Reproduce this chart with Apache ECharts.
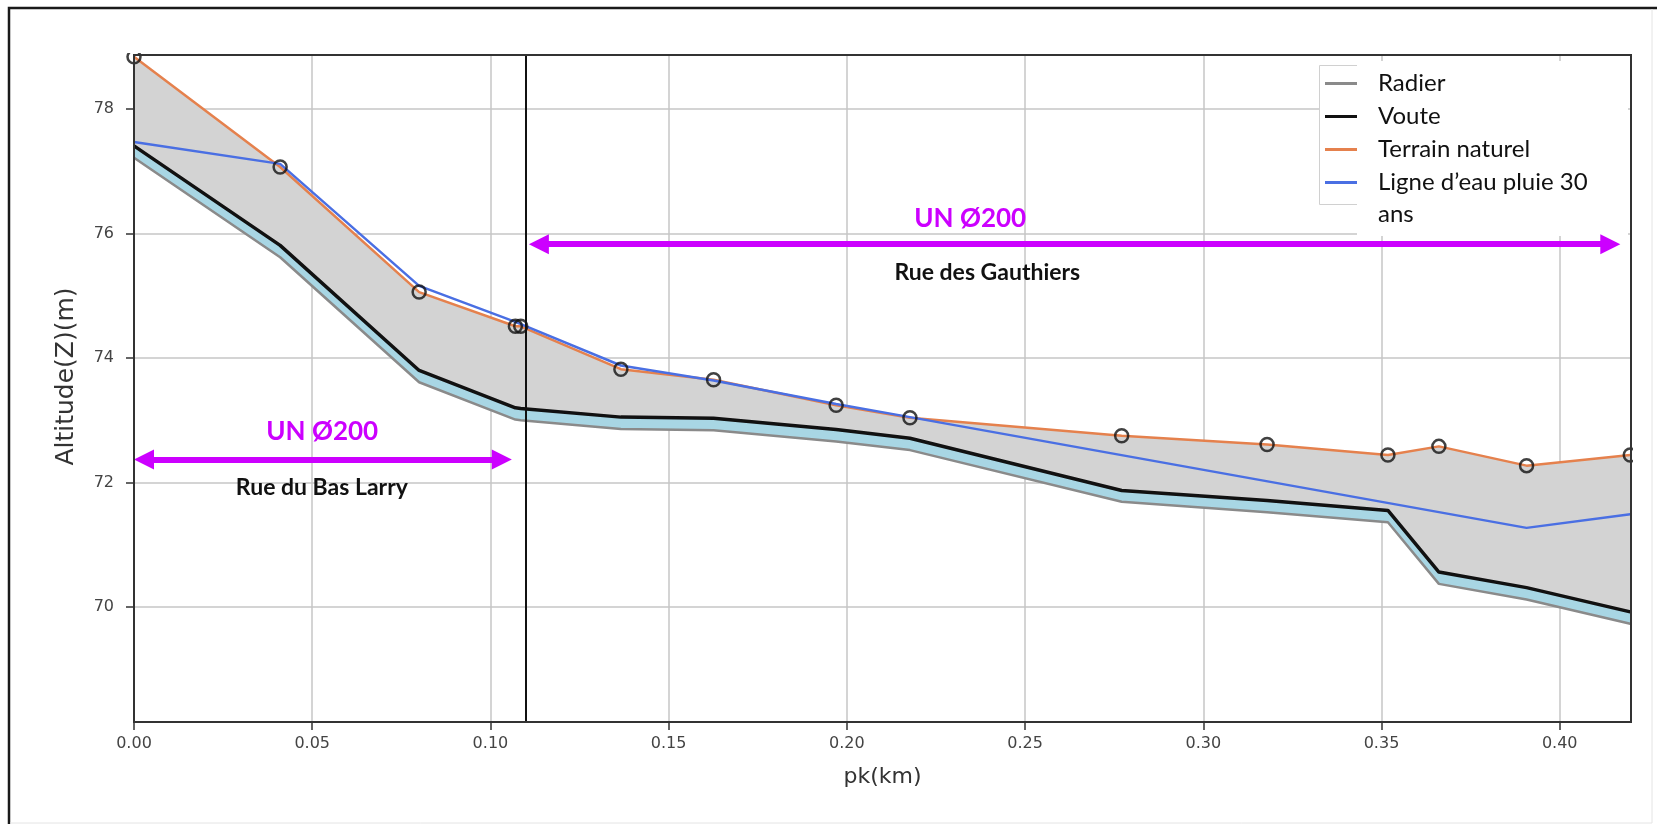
<!DOCTYPE html>
<html>
<head>
<meta charset="utf-8">
<script src="https://cdn.jsdelivr.net/npm/echarts@6/dist/echarts.min.js"></script>
<style>
  html, body { margin: 0; padding: 0; background: #fff; }
  #chart { width: 1657px; height: 825px; }
</style>
</head>
<body>
<div id="chart"></div>
<script>
// Profil en long : stations (pk en km) et altitudes (m)
const pk             = [0.000, 0.041, 0.080, 0.107, 0.1085, 0.1366, 0.1626, 0.197, 0.2177, 0.2771, 0.3179, 0.3518, 0.3661, 0.3907, 0.4198];
const terrainNaturel = [78.84, 77.07, 75.06, 74.51, 74.51, 73.82, 73.65, 73.24, 73.04, 72.75, 72.61, 72.44, 72.58, 72.27, 72.44];
const voute          = [77.41, 75.81, 73.80, 73.20, 73.19, 73.05, 73.03, 72.85, 72.71, 71.87, 71.71, 71.55, 70.56, 70.31, 69.92];
const radier         = [77.22, 75.62, 73.61, 73.01, 73.00, 72.86, 72.84, 72.66, 72.52, 71.69, 71.52, 71.36, 70.37, 70.12, 69.73];

// Ligne d'eau pour la pluie de retour 30 ans
const pkLigneEau = [0.000, 0.041, 0.080, 0.107, 0.1366, 0.1626, 0.197, 0.2177, 0.3907, 0.4198];
const ligneEau   = [77.47, 77.12, 75.16, 74.58, 73.88, 73.64, 73.26, 73.05, 71.27, 71.49];

// Graduations
const xTicks = [0, 0.05, 0.10, 0.15, 0.20, 0.25, 0.30, 0.35, 0.40];
const yTicks = [70, 72, 74, 76, 78];

// Tronçons de réseau (étendue en pk, altitude de la flèche)
const pkSeparation = 0.108;
const tronconDebut = [0.0028, 0.1136];
const tronconFin   = [0.1032, 0.4142];
const tronconZ     = [72.37, 75.83];
const tronconDiam  = ['UN Ø200', 'UN Ø200'];
const tronconRue   = ['Rue du Bas Larry', 'Rue des Gauthiers'];

const NOM_RADIER = 'Radier';
const NOM_VOUTE = 'Voute';
const NOM_TN = 'Terrain naturel';
const NOM_EAU = 'Ligne d’eau pluie 30 ans';

const zip = (xs, ys) => xs.map((x, i) => [x, ys[i]]);

// Remplissage entre deux profils définis sur les mêmes stations
function bande(name, haut, bas, fill) {
  return {
    type: 'custom', name, silent: true, z: 1,
    data: [[pk[0], haut[0]]],
    renderItem: (params, api) => {
      const sup = pk.map((x, i) => api.coord([x, haut[i]]));
      const inf = pk.map((x, i) => api.coord([x, bas[i]])).reverse();
      return { type: 'polygon', shape: { points: sup.concat(inf) }, style: { fill } };
    }
  };
}

function ligne(name, xs, ys, color, width, z) {
  return {
    type: 'line', name, color, z,
    data: zip(xs, ys),
    symbol: 'none', showSymbol: false,
    lineStyle: { color, width },
    emphasis: { disabled: true }
  };
}

// Positions des étiquettes des tronçons (pk, altitude)
const etiqDiam = [[0.0528, 72.81], [0.2346, 76.24]];
const etiqRue  = [[0.0527, 71.92], [0.2394, 75.38]];

const fleches = tronconDebut.map((d, i) => [
  { coord: [d, tronconZ[i]] },
  { coord: [tronconFin[i], tronconZ[i]] }
]);

const etiquettes = [];
tronconDiam.forEach((t, i) => etiquettes.push({
  coord: etiqDiam[i], value: t,
  label: { formatter: t, fontFamily: 'Lato', fontWeight: 'bold', fontSize: 26, color: '#cc00ff' }
}));
tronconRue.forEach((t, i) => etiquettes.push({
  coord: etiqRue[i], value: t,
  label: { formatter: t, fontFamily: 'Lato', fontWeight: 'bold', fontSize: 23, color: '#111' }
}));

const chart = echarts.init(document.getElementById('chart'), null, { renderer: 'canvas' });

chart.setOption({
  animation: false,
  backgroundColor: '#fff',
  grid: {
    left: 134, top: 55, width: 1497, height: 667,
    show: true, borderColor: '#333', borderWidth: 2,
    backgroundColor: 'transparent', z: 10
  },
  xAxis: {
    type: 'value', min: 0, max: 0.42, interval: 0.05,
    name: 'pk(km)', nameLocation: 'middle', nameGap: 44,
    nameTextStyle: { fontFamily: 'DejaVu Sans', fontSize: 22, color: '#333' },
    axisLine: { show: true, lineStyle: { color: '#333', width: 2 } },
    axisTick: { show: true, inside: false, length: 8, customValues: xTicks, lineStyle: { color: '#333', width: 1.5 } },
    axisLabel: {
      customValues: xTicks, margin: 14,
      formatter: v => v.toFixed(2),
      fontFamily: 'DejaVu Sans', fontSize: 16, color: '#444'
    },
    splitLine: { show: true, lineStyle: { color: '#c6c6c6', width: 1.5 } }
  },
  yAxis: {
    type: 'value', min: 68.15, max: 78.87, splitNumber: 5,
    name: 'Altitude(Z)(m)', nameLocation: 'middle', nameGap: 55, nameRotate: 90,
    nameTextStyle: { fontFamily: 'DejaVu Sans', fontSize: 25, color: '#333', padding: [0, 0, 0, 24] },
    axisLine: { show: true, lineStyle: { color: '#333', width: 2 } },
    axisTick: { show: true, inside: false, length: 8, customValues: yTicks, lineStyle: { color: '#333', width: 1.5 } },
    axisLabel: {
      customValues: yTicks, margin: 20,
      formatter: v => String(Math.round(v)),
      fontFamily: 'DejaVu Sans', fontSize: 16, color: '#444'
    },
    splitLine: { show: true, lineStyle: { color: '#c6c6c6', width: 1.5 } }
  },
  legend: {
    orient: 'vertical', left: 1325, top: 67, padding: 0,
    itemWidth: 32, itemHeight: 3, itemGap: 0, icon: 'rect',
    selectedMode: false, z: 5,
    data: [NOM_RADIER, NOM_VOUTE, NOM_TN, NOM_EAU],
    // le libellé long passe à la ligne : la suite est posée sous l'entrée
    formatter: n => (n === NOM_EAU ? 'Ligne d’eau pluie 30' : n),
    textStyle: {
      fontFamily: 'Lato', fontSize: 24, color: '#111',
      lineHeight: 33, padding: [0, 0, 0, 16]
    }
  },
  graphic: [
    // fond blanc de la légende
    { type: 'rect', silent: true, z: 3, shape: { x: 1319.5, y: 65.5, width: 80, height: 139 },
      style: { fill: '#fff', stroke: '#d0d0d0', lineWidth: 1 } },
    { type: 'rect', silent: true, z: 3, shape: { x: 1357, y: 61, width: 271, height: 175 },
      style: { fill: '#fff' } },
    { type: 'text', silent: true, z: 6, x: 1378, y: 214,
      style: { text: 'ans', fontFamily: 'Lato', fontSize: 24, fill: '#111', align: 'left', verticalAlign: 'middle' } },
    // masques hors zone de tracé
    { type: 'rect', silent: true, z: 8, shape: { x: 120, y: 12, width: 1525, height: 41 }, style: { fill: '#fff' } },
    { type: 'rect', silent: true, z: 8, shape: { x: 1633, y: 12, width: 14, height: 705 }, style: { fill: '#fff' } },
    // cadre de la figure
    { type: 'polyline', silent: true, z: 20, shape: { points: [[9, 824], [9, 8], [1657, 8]] },
      style: { stroke: '#1a1a1a', lineWidth: 2.5, fill: null } },
    { type: 'polyline', silent: true, z: 20, shape: { points: [[10, 823], [1652, 823], [1652, 9]] },
      style: { stroke: '#e4e4e4', lineWidth: 1, fill: null } }
  ],
  series: [
    bande('sol', terrainNaturel, voute, '#d3d3d3'),
    bande('conduite', voute, radier, '#a8d6e4'),
    ligne(NOM_RADIER, pk, radier, '#8a8a8a', 2.5, 2),
    ligne(NOM_VOUTE, pk, voute, '#111111', 3.5, 2),
    ligne(NOM_TN, pk, terrainNaturel, '#e5814d', 2.5, 2),
    ligne(NOM_EAU, pkLigneEau, ligneEau, '#4a6fe3', 2.5, 2),
    {
      type: 'scatter', name: 'points', z: 4, silent: true,
      data: zip(pk, terrainNaturel),
      symbol: 'circle', symbolSize: 13,
      itemStyle: { color: 'rgba(0,0,0,0)', borderColor: '#111', borderWidth: 2.5 }
    },
    {
      type: 'line', name: 'separation', data: [], z: 3, silent: true,
      markLine: {
        silent: true, symbol: 'none', animation: false,
        label: { show: false },
        lineStyle: { color: '#111', width: 2, type: 'solid' },
        data: [{ xAxis: pkSeparation }]
      }
    },
    {
      type: 'line', name: 'troncons', data: [], z: 6, silent: true,
      markLine: {
        silent: true, animation: false,
        symbol: ['triangle', 'triangle'], symbolSize: [20, 20],
        label: { show: false },
        lineStyle: { color: '#cc00ff', width: 6, type: 'solid' },
        itemStyle: { color: '#cc00ff' },
        data: fleches
      },
      markPoint: {
        silent: true, animation: false,
        symbol: 'circle', symbolSize: 1,
        itemStyle: { color: 'rgba(0,0,0,0)' },
        label: { show: true, position: 'inside' },
        data: etiquettes
      }
    }
  ]
});
</script>
</body>
</html>
